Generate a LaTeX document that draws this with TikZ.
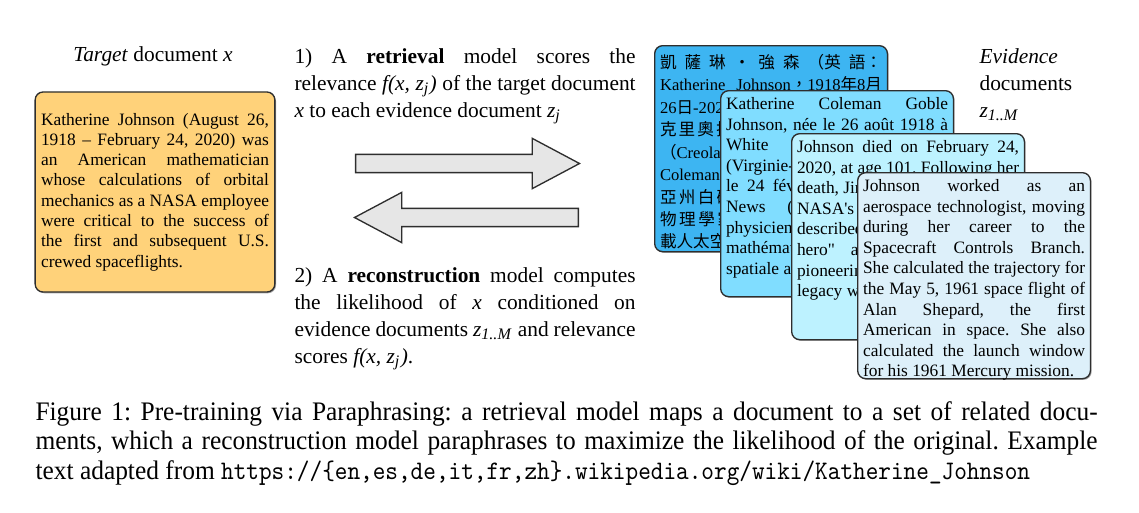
\documentclass[tikz,border=0pt]{standalone}
\usepackage{fontspec}
\setmainfont{Liberation Serif}
\newfontfamily\cjkfont{Noto Sans CJK TC}
\newfontfamily\capfont{Liberation Serif}[FakeStretch=0.95]
\newfontfamily\captt{lmmono10-regular}[Extension=.otf, FakeStretch=0.9]
\usetikzlibrary{shapes.arrows, shadows}
\definecolor{TargetOrange}{HTML}{FFD27A}
\definecolor{EvBlueA}     {HTML}{3DB5F2}
\definecolor{EvBlueB}     {HTML}{80DDFF}
\definecolor{EvBlueC}     {HTML}{BDF2FF}
\definecolor{EvBlueD}     {HTML}{DDF0FA}
\definecolor{ArrowGray}   {HTML}{E6E6E6}
\definecolor{EdgeGray}    {HTML}{2E2E2E}
\newcommand{\zvar}[1]{\textit{z}\textsubscript{\textit{#1}}}
\newcommand{\relf}{\textit{f(x, \zvar{j})}}
\newcommand{\zh}[1]{{\cjkfont\fontsize{6.2}{8.4}\selectfont #1}}
\newcommand{\cardtext}[1]{\parbox[c][72pt][t]{83pt}{#1}}
\frenchspacing

\begin{document}
\begin{tikzpicture}[
  x=0.3738pt, y=-0.3738pt,
  every node/.style = {inner sep=0pt},
  doc/.style        = {draw=EdgeGray, line width=0.5pt, rounded corners=3pt,
                       drop shadow={shadow xshift=0.45pt, shadow yshift=-0.45pt,
                                    fill=gray, opacity=0.7}},
  target/.style     = {doc, fill=TargetOrange, text width=85.2pt, inner xsep=2.2pt,
                       minimum height=74.8pt, align=justify,
                       font=\fontsize{6.5}{7.6}\selectfont},
  card/.style       = {doc, anchor=north west, inner xsep=2pt, inner ysep=2.5pt,
                       font=\fontsize{6.5}{7.7}\selectfont},
  heading/.style    = {font=\fontsize{8}{10.1}\selectfont},
  para/.style       = {heading, anchor=north west, text width=127.5pt, align=justify},
  blockarrow/.style = {single arrow, draw=EdgeGray, fill=ArrowGray, line width=0.5pt,
                       inner xsep=0pt, inner ysep=3.15pt,
                       minimum height=83.7pt, minimum width=18.3pt,
                       single arrow head extend=6pt, single arrow tip angle=56,
                       single arrow head indent=0pt},
]
\useasboundingbox (0,0) rectangle (1139,512);

% target document
\node[heading] (tgtlbl) at (153,56) {\textit{Target} document \textit{x}};
\node[target]  (tgt)    at (155,192) {Katherine Johnson (August 26,\linebreak
  1918 -- February 24, 2020) was\linebreak an American mathematician\linebreak
  whose calculations of orbital\linebreak mechanics as a NASA employee\linebreak
  were critical to the success of\linebreak the first and subsequent U.S.\linebreak
  crewed spaceflights.};

% the two models
\node[para] (retr)  at (294,48)  {1) A \textbf{retrieval} model scores the\linebreak
  relevance \relf{} of the target document\linebreak
  \textit{x} to each evidence document \zvar{j}};
\node[para] (recon) at (294,267) {2) A \textbf{reconstruction} model computes\linebreak
  the likelihood of \textit{x} conditioned on\linebreak
  evidence documents \zvar{1..M} and relevance\linebreak scores \relf.};
\node[blockarrow] (fwd) at (459,163.5) {};
\node[blockarrow, shape border rotate=180] (bwd) at (475,217.5) {};

% evidence documents
\node[card, fill=EvBlueA, font=\fontsize{6.2}{8.4}\selectfont] (zhdoc) at (654,45)
  {\cardtext{\XeTeXlinebreaklocale "zh"\XeTeXlinebreakskip=0pt plus 4pt
  \vspace*{0.6pt}\zh{凱薩琳·強森（英語：}\linebreak
  Katherine Johnson\zh{，}1918\zh{年}8\zh{月}\linebreak
  26\zh{日}-2020\zh{年}2\zh{月}24\zh{日），}\linebreak
  \zh{克里奧拉·凱薩琳·科爾曼}\linebreak
  \zh{（}Creola Katherine\linebreak
  Coleman\zh{），美國西維吉尼}\linebreak
  \zh{亞州白硫磺泉人，非裔美國}\linebreak
  \zh{物理學家、太空科學家，曾}\linebreak
  \zh{載人太空飛行計劃。}}};
\node[card, fill=EvBlueB] (frdoc) at (720,90)
  {\cardtext{Katherine Coleman Goble\linebreak Johnson, née le 26 août 1918 à\linebreak
  White Sulphur Springs\linebreak (Virginie-Occidentale) et\linebreak
  le 24 février 2020 à Newport\linebreak News (Virginie), est une\linebreak
  physicienne, ingénieure et\linebreak mathématicienne, ingénieure\linebreak
  spatiale américaine.}};
\node[card, fill=EvBlueC] (endoc) at (791,133)
  {\cardtext{Johnson died on February 24,\linebreak 2020, at age 101. Following her\linebreak
  death, Jim Bridenstine,\newline NASA\textquotesingle s administrator,\linebreak
  described her as \textquotedbl an American\linebreak
  hero\textquotedbl{} and stated that \textquotedbl her\linebreak
  pioneering\linebreak legacy will never be forgotten.\textquotedbl}};
\node[card, fill=EvBlueD] (topdoc) at (857,172)
  {\cardtext{Johnson worked as an\linebreak aerospace technologist, moving\linebreak
  during her career to the\linebreak Spacecraft Controls Branch.\linebreak
  She calculated the trajectory for\linebreak the May 5, 1961 space flight of\linebreak
  Alan Shepard, the first\linebreak American in space. She also\linebreak
  calculated the launch window\linebreak for his 1961 Mercury mission.}};
\node[heading, anchor=north west, align=left] (evlbl) at (979,48)
  {\textit{Evidence}\\documents\\\zvar{1..M}};

% caption
\node[anchor=north west, text width=397pt, align=justify,
      font=\capfont\fontsize{10}{11}\selectfont] (cap) at (35,401)
  {Figure 1: Pre-training via Paraphrasing: a retrieval model maps a document to a set of related docu-\linebreak
  ments, which a reconstruction model paraphrases to maximize the likelihood of the original. Example\linebreak
  text adapted from {\captt https://\{en,es,de,it,fr,zh\}.wikipedia.org/wiki/Katherine\_Johnson}};
\end{tikzpicture}
\end{document}
